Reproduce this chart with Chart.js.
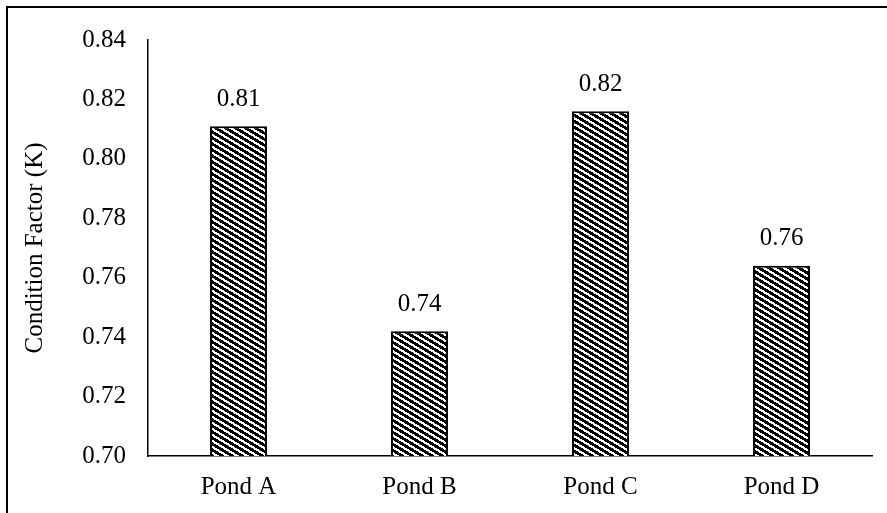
<!DOCTYPE html>
<html>
<head>
<meta charset="utf-8">
<script src="https://cdn.jsdelivr.net/npm/chart.js@4"></script>
<style>
  body { margin: 0; background: #fff; }
  #wrap { width: 887px; height: 513px; }
</style>
</head>
<body>
<div id="wrap"><canvas id="chart" width="887" height="513"></canvas></div>
<script>
const ponds = ['Pond A', 'Pond B', 'Pond C', 'Pond D'];
const conditionK = [0.811, 0.742, 0.816, 0.764];
const yTicks = [0.70, 0.72, 0.74, 0.76, 0.78, 0.80, 0.82, 0.84];

const serif = '"Liberation Serif", "Times New Roman", serif';

// wide downward diagonal hatch, drawn pixel by pixel
function makeHatch() {
    const tile = document.createElement('canvas');
    tile.width = 10;
    tile.height = 6;
    const c = tile.getContext('2d');
    c.fillStyle = '#fff';
    c.fillRect(0, 0, 10, 6);
    c.fillStyle = '#000';
    for (let x = 0; x < 10; x++) {
        for (let y = 0; y < 6; y++) {
            let p = (x / 10 - y / 6) % 1;
            if (p < 0) p += 1;
            if (p < 0.55) c.fillRect(x, y, 1, 1);
        }
    }
    return document.getElementById('chart').getContext('2d').createPattern(tile, 'repeat');
}

const frame = {
    id: 'frame',
    beforeDraw(chart) {
        const ctx = chart.ctx;
        ctx.save();
        ctx.fillStyle = '#fff';
        ctx.fillRect(0, 0, chart.width, chart.height);
        ctx.strokeStyle = '#000';
        ctx.lineWidth = 2;
        ctx.beginPath();
        ctx.moveTo(7, chart.height + 5);
        ctx.lineTo(7, 7);
        ctx.lineTo(chart.width + 5, 7);
        ctx.stroke();
        ctx.restore();
    }
};

const valueLabels = {
    id: 'valueLabels',
    afterDatasetsDraw(chart) {
        const ctx = chart.ctx;
        const meta = chart.getDatasetMeta(0);
        ctx.save();
        ctx.fillStyle = '#000';
        ctx.font = '25px ' + serif;
        ctx.textAlign = 'center';
        ctx.textBaseline = 'middle';
        meta.data.forEach((bar, i) => {
            ctx.fillText(conditionK[i].toFixed(2), bar.x, bar.y - 27);
        });
        ctx.restore();
    }
};

new Chart(document.getElementById('chart'), {
    type: 'bar',
    data: {
        labels: ponds,
        datasets: [{
            data: conditionK,
            backgroundColor: makeHatch(),
            borderColor: '#000',
            borderWidth: 2,
            barPercentage: 0.315,
            categoryPercentage: 1
        }]
    },
    options: {
        responsive: false,
        animation: false,
        layout: { padding: { left: 20, right: 15, top: 40, bottom: 0 } },
        plugins: {
            legend: { display: false },
            tooltip: { enabled: false }
        },
        scales: {
            x: {
                grid: { display: false, drawTicks: false },
                border: { color: '#000', width: 1.5 },
                ticks: {
                    color: '#000',
                    font: { family: serif, size: 25 },
                    padding: 16
                },
                afterFit(axis) { axis.height = 57; }
            },
            y: {
                min: 0.70,
                max: 0.84,
                afterBuildTicks(axis) {
                    axis.ticks = yTicks.map(v => ({ value: v }));
                },
                grid: { display: false, drawTicks: false },
                border: { color: '#000', width: 1.5 },
                ticks: {
                    color: '#000',
                    font: { family: serif, size: 25 },
                    padding: 22,
                    callback: v => v.toFixed(2)
                },
                title: {
                    display: true,
                    text: 'Condition Factor (K)',
                    color: '#000',
                    font: { family: serif, size: 25 },
                    padding: { top: 0, bottom: 0 }
                },
                afterFit(axis) { axis.width = 128; }
            }
        }
    },
    plugins: [frame, valueLabels]
});
</script>
</body>
</html>
